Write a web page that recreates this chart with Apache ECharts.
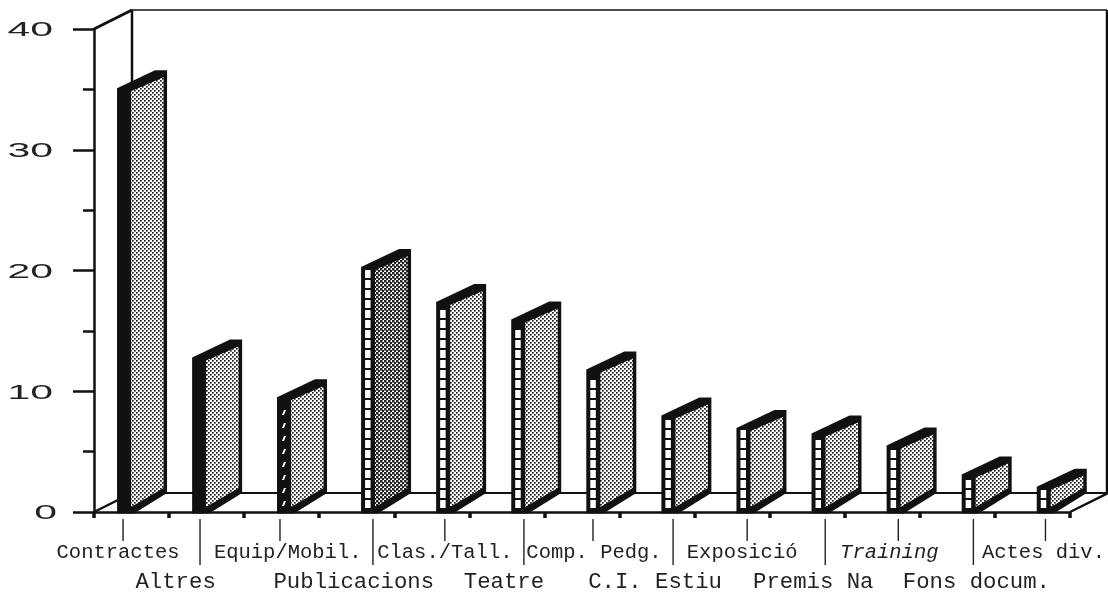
<!DOCTYPE html>
<html><head><meta charset="utf-8">
<style>html,body{margin:0;padding:0;background:#fff}#c{width:1108px;height:595px}</style>
<script src="https://cdn.jsdelivr.net/npm/echarts@6/dist/echarts.min.js"></script>
</head><body><div id="c"></div>
<script>
const categories = ['Contractes','Altres','Equip/Mobil.','Publicacions','Clas./Tall.','Teatre','Comp. Pedg.','C.I. Estiu','Exposició','Premis Na','Training','Fons docum.','Actes div.'];
const values = [35.1,12.8,9.5,20.3,17.4,15.95,11.8,8,6.95,6.5,5.5,3.1,2.1];
const frontPatterns = ['solid','solid','dash','ladder','ladder','ladder','ladder','ladder','ladder','ladder','ladder','ladder','ladder'];
const valueTicks = [0,10,20,30,40];

// layout (pixels relative to scale positions)
const labelShift = [-13.5,-31,6,-3,13,-3,12,-2,10,6,7,19,11];
const leaderShift = [-8.5,-6.6,-1.7,16.2,13,17,11,16,15,18,16,16,13];
const frontShift = {solid:-14.5, dash:-4.7, ladder:4.3};
const DX = 38, DY = -19, INK = '#111';

function tile(size, draw){
  const c = document.createElement('canvas'); c.width = c.height = size;
  const g = c.getContext('2d'); g.fillStyle = '#fff'; g.fillRect(0,0,size,size);
  g.fillStyle = '#222'; draw(g); return {image:c, repeat:'repeat'};
}
const dots = tile(4, g=>{g.fillRect(0,0,1.7,1.7);g.fillRect(2,2,1.7,1.7);});
const denseDots = tile(4, g=>{g.fillRect(0,0,2.5,2.5);g.fillRect(2,2,2.5,2.5);});

function renderWall(params, api){
  const n = categories.length;
  const half = api.size([1,0])[0]/2;
  const a = api.coord([0,0]), b = api.coord([n-1,40]);
  const l = a[0]-half, r = b[0]+half, y0 = a[1], y1 = b[1];
  const line = (x1,y_1,x2,y2,w)=>({type:'line',shape:{x1,y1:y_1,x2,y2},style:{stroke:INK,lineWidth:w,fill:null}});
  return {type:'group',children:[
    line(l,y1,l+DX,y1+DY,3),
    line(l+DX,y1+DY,l+DX,y0+DY,2.5),
    line(l+DX,y1+DY,r+DX-1,y1+DY,1.5),
    line(r+DX-1,y1+DY,r+DX-1,y0+DY,2.5),
    line(l+DX,y0+DY,r+DX-1,y0+DY,1.8),
    line(l,y0,l+DX,y0+DY,2.5),
    line(r,y0,r+DX,y0+DY,2.5)
  ]};
}
function renderBar(params, api){
  const i = api.value(0), v = api.value(1);
  const p = api.coord([i,v]), base = api.coord([i,0])[1];
  const kind = frontPatterns[i];
  const x = p[0]+frontShift[kind], top = p[1];
  const ch = [];
  ch.push({type:'polygon',shape:{points:[[x,top],[x+38,top-18],[x+50,top-18],[x+50,base-19],[x+17,base+1.5],[x,base+1.5]]},style:{fill:INK}});
  ch.push({type:'polygon',shape:{points:[[x+14,top+3],[x+46.5,top-11],[x+46.5,base-24],[x+14,base-5]]},style:{fill:i===3?denseDots:dots}});
  if(kind==='ladder'){
    for(let yy=base-4;yy-8>=top+1;yy-=10){
      ch.push({type:'rect',shape:{x:x+4,y:yy-8,width:5.5,height:8},style:{fill:'#fff'}});
    }
  } else if(kind==='dash'){
    for(let yy=base-6;yy-5>top+3;yy-=13){
      ch.push({type:'polygon',shape:{points:[[x+5,yy],[x+7,yy],[x+9,yy-5],[x+7,yy-5]]},style:{fill:'#fff'}});
    }
  }
  return {type:'group',children:ch};
}
function renderLeader(params, api){
  const i = api.value(0), c = api.coord([i,0]);
  const x = c[0]+leaderShift[i];
  return {type:'line',shape:{x1:x,y1:c[1]+7,x2:x,y2:c[1]+(i%2?53:29)},style:{stroke:'#222',lineWidth:1.4}};
}
function renderValueLabel(params, api){
  const v = api.value(0), c = api.coord([0,v]);
  return {type:'text',x:v===0?57:53,y:c[1]+1.5,scaleX:1.95,style:{text:String(v),textAlign:'right',textVerticalAlign:'middle',fontFamily:'Liberation Sans',fontSize:21,fill:'#222'}};
}
const rich = {};
categories.forEach((n,i)=>{
  const d = 2*labelShift[i];
  rich['r'+i] = {
    padding:[i%2?58:0, d<0?-d:0, 0, d>0?d:0],
    lineHeight:24, fontFamily:'Liberation Mono', fontSize:i%2?22.3:20.5, color:'#222',
    fontStyle:n==='Training'?'italic':'normal', align:'center'
  };
});
const chart = echarts.init(document.getElementById('c'),null,{renderer:'canvas'});
chart.setOption({
  animation:false,
  backgroundColor:'#fff',
  grid:{left:94,right:38,top:29,bottom:83},
  xAxis:{type:'category',data:categories,boundaryGap:true,
    axisLine:{show:true,lineStyle:{color:INK,width:2.5}},
    axisTick:{show:true,alignWithLabel:false,length:6,lineStyle:{color:INK,width:3.5}},
    axisLabel:{interval:0,margin:29,hideOverlap:false,formatter:(val,idx)=>`{r${idx}|${val}}`,rich},
    splitLine:{show:false}},
  yAxis:{type:'value',min:0,max:40,interval:10,
    axisLine:{show:true,lineStyle:{color:INK,width:2.5}},
    axisTick:{show:true,length:21,lineStyle:{color:INK,width:2.5}},
    minorTick:{show:true,splitNumber:2,length:11,lineStyle:{color:INK,width:2.5}},
    axisLabel:{show:false},splitLine:{show:false}},
  series:[
    {type:'custom',name:'wall',silent:true,z:1,clip:false,data:[[0,0]],renderItem:renderWall,encode:{x:0,y:1}},
    {type:'custom',name:'leaders',silent:true,z:2,clip:false,data:categories.map((c,i)=>[i,0]),renderItem:renderLeader,encode:{x:0,y:1}},
    {type:'custom',name:'valueLabels',silent:true,z:3,clip:false,data:valueTicks.map(v=>[v]),renderItem:renderValueLabel,encode:{y:0}},
    {type:'custom',name:'bars',silent:true,z:5,clip:false,data:values.map((v,i)=>[i,v]),renderItem:renderBar,encode:{x:0,y:1}}
  ]
});
</script></body></html>
